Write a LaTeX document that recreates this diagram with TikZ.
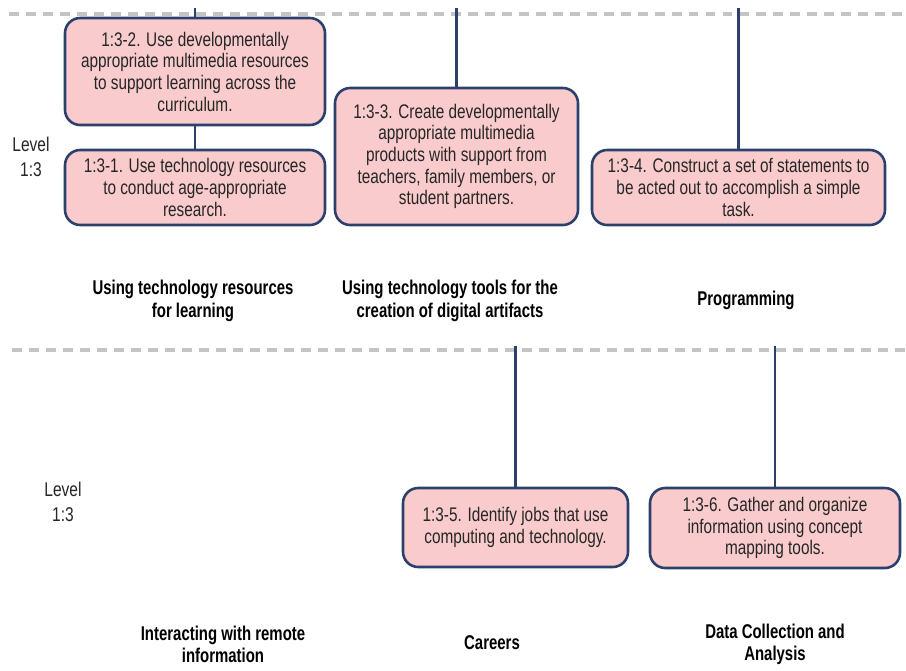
\documentclass[tikz,border=0pt]{standalone}
\usepackage{fontspec}
\setmainfont{Liberation Sans}[FakeStretch=0.78]
\newfontfamily\strandfont{Liberation Sans}[FakeStretch=0.75]

\definecolor{goalfill}{HTML}{F9CBCC}
\definecolor{goalline}{HTML}{2C406C}
\definecolor{bandgray}{HTML}{C4C4C4}

\tikzset{
  goal/.style={draw=goalline, fill=goalfill, line width=2.2pt, rounded corners=13pt,
    align=center, inner sep=2pt, text=black!85, font=\fontsize{16.8}{18.5}\selectfont},
  link/.style={draw=goalline, line width=2.2pt},
  band/.style={draw=bandgray, line width=2.6pt, dash pattern=on 8.5pt off 6pt},
  strand/.style={align=center, font=\strandfont\bfseries\fontsize{17}{19}\selectfont},
  level/.style={align=center, text=black!85, font=\fontsize{17}{21}\selectfont}
}

\begin{document}
\begin{tikzpicture}[x=0.03cm, y=-0.03cm]
        \useasboundingbox (0,0) rectangle (906,670);

        \draw[band] (9,14) -- (906,14);
        \draw[band] (12,350) -- (906,350);

        \begin{scope}[every node/.style={goal}]
          \node[minimum width=7.8cm,  minimum height=3.21cm] (g32) at (195,71.5)
            {1:3-2. Use developmentally\\appropriate multimedia resources\\to support learning across the\\curriculum.};
          \node[minimum width=7.8cm,  minimum height=2.25cm] (g31) at (195,187.5)
            {1:3-1. Use technology resources\\to conduct age-appropriate\\research.};
          \node[minimum width=7.29cm, minimum height=4.11cm] (g33) at (456.5,156.5)
            {1:3-3. Create developmentally\\appropriate multimedia\\products with support from\\teachers, family members, or\\student partners.};
          \node[minimum width=8.79cm, minimum height=2.25cm] (g34) at (738.5,187.5)
            {1:3-4. Construct a set of statements to\\be acted out to accomplish a simple\\task.};
          \node[minimum width=6.75cm, minimum height=2.37cm] (g35) at (515.5,527.5)
            {1:3-5. Identify jobs that use\\computing and technology.};
          \node[minimum width=7.5cm,  minimum height=2.4cm]  (g36) at (775,528)
            {1:3-6. Gather and organize\\information using concept\\mapping tools.};
        \end{scope}

        \coordinate (t32) at (195,8);
        \coordinate (t33) at (456.5,8);
        \coordinate (t34) at (738.5,8);
        \coordinate (t35) at (515.5,346);
        \coordinate (t36) at (775,346);

        \begin{scope}[every path/.style={link}]
          \path (t32) edge (g32.north);
          \path (g32) edge (g31);
          \path (t33) edge (g33.north);
          \path (t34) edge (g34.north);
          \path (t35) edge (g35.north);
          \path (t36) edge (g36.north);
        \end{scope}

        \node[level] (lv1) at (31,157) {Level\\1:3};
        \node[level] (lv2) at (63,502) {Level\\1:3};

        \begin{scope}[every node/.style={strand}]
          \node (s1) at (193,301) {Using technology resources\\for learning};
          \node (s2) at (450,301) {Using technology tools for the\\creation of digital artifacts};
          \node (s3) at (746,300) {Programming};
          \node (s4) at (223,644) {Interacting with remote\\information};
          \node (s5) at (492,643) {Careers};
          \node (s6) at (775,644) {Data Collection and\\Analysis};
        \end{scope}

      \end{tikzpicture}
\end{document}
